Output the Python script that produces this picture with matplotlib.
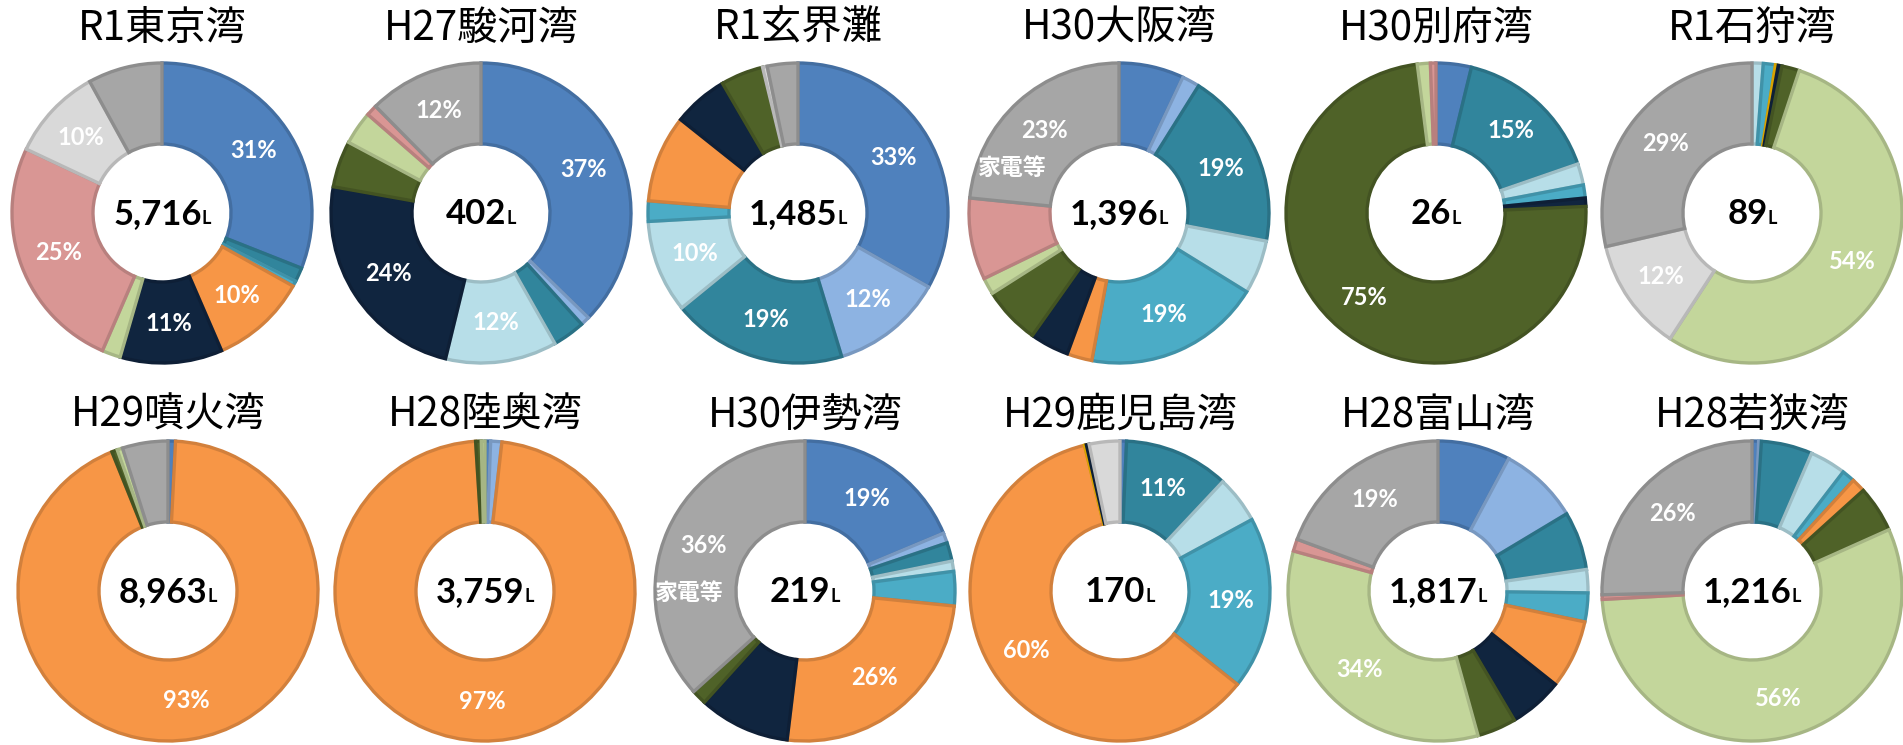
import matplotlib
matplotlib.use('Agg')
import matplotlib.pyplot as plt
from matplotlib.colors import to_rgb
from matplotlib.transforms import offset_copy
import numpy as np

plt.rcParams['font.family'] = ['Noto Sans CJK JP', 'DejaVu Sans']

# litter categories, same order (clockwise from 12 o'clock) in every bay
categories = ['区分1', '区分2', '区分3', '区分4', '区分5', '区分6', '区分7',
              '区分8', '区分9', '区分10', '区分11', '区分12', '家電等']
colors = ['#4f81bd', '#8db3e2', '#31859c', '#b7dee8', '#4bacc6', '#f79646', '#ffc000',
          '#10253f', '#4f6228', '#c3d69b', '#d99694', '#d9d9d9', '#a6a6a6']

titles = ['R1東京湾', 'H27駿河湾', 'R1玄界灘', 'H30大阪湾', 'H30別府湾', 'R1石狩湾',
          'H29噴火湾', 'H28陸奥湾', 'H30伊勢湾', 'H29鹿児島湾', 'H28富山湾', 'H28若狭湾']
totals = ['5,716', '402', '1,485', '1,396', '26', '89',
          '8,963', '3,759', '219', '170', '1,817', '1,216']

# shares (%) per category
tokyo     = [31.0, 0, 1.5, 0, 0.6, 10.4, 0, 11.0, 0, 2.0, 25.5, 10.0, 8.0]
suruga    = [37.3, 1.0, 3.5, 12.0, 0, 0, 0, 24.0, 5.0, 3.6, 1.2, 0, 12.4]
genkai    = [33.2, 12.1, 18.8, 10.0, 2.2, 9.4, 0, 5.9, 4.6, 0, 0, 0.5, 3.3]
osaka     = [7.0, 1.9, 19.1, 5.8, 19.1, 2.7, 0, 4.2, 6.2, 1.8, 8.8, 0, 23.4]
beppu     = [3.8, 0, 15.9, 2.3, 1.4, 0, 0, 0.9, 73.7, 1.4, 0.6, 0, 0]
ishikari  = [0, 0, 0, 1.2, 1.3, 0, 0.3, 0.4, 1.9, 54.1, 0, 12.2, 28.6]
funka     = [0.8, 0, 0, 0, 0, 93.1, 0, 0, 0.6, 0.6, 0, 0, 4.9]
mutsu     = [0.6, 1.2, 0, 0, 0, 97.2, 0, 0, 0.6, 0.4, 0, 0, 0]
ise       = [18.7, 1.1, 2.0, 1.1, 3.7, 25.3, 0, 9.8, 1.6, 0, 0, 0, 36.7]
kagoshima = [0.7, 0, 11.3, 5.1, 18.6, 60.5, 0.2, 0.3, 0, 0, 0, 3.3, 0]
toyama    = [7.8, 8.6, 6.3, 2.5, 3.1, 7.4, 0, 5.8, 4.2, 33.6, 1.3, 0, 19.4]
wakasa    = [0.7, 0.3, 5.5, 3.9, 1.4, 1.5, 0, 0, 5.0, 55.8, 0.5, 0, 25.4]
shares = [tokyo, suruga, genkai, osaka, beppu, ishikari,
          funka, mutsu, ise, kagoshima, toyama, wakasa]

# printed percentage labels (category index -> text)
pct_labels = [
    {0: '31%', 5: '10%', 7: '11%', 10: '25%', 11: '10%'},
    {0: '37%', 3: '12%', 7: '24%', 12: '12%'},
    {0: '33%', 1: '12%', 2: '19%', 3: '10%'},
    {2: '19%', 4: '19%', 12: '23%'},
    {2: '15%', 8: '75%'},
    {9: '54%', 11: '12%', 12: '29%'},
    {5: '93%'},
    {5: '97%'},
    {0: '19%', 5: '26%', 12: '36%'},
    {2: '11%', 4: '19%', 5: '60%'},
    {9: '34%', 12: '19%'},
    {9: '56%', 12: '26%'},
]
# bays where the grey wedge also carries its category name
named_grey = ['H30大阪湾', 'H30伊勢湾']

W, H = 1903, 745
fig = plt.figure(figsize=(W / 100, H / 100), dpi=100)
fig.patch.set_facecolor('white')

R = 150
xs = [162, 481, 798, 1119, 1436, 1752, 168, 485, 805, 1120, 1438, 1752]
ys = [213] * 6 + [591] * 6
title_ys = [28] * 6 + [415] * 6

centre_texts = []
for i in range(12):
    cx, cy = xs[i], ys[i]
    ax = fig.add_axes([(cx - R) / W, 1 - (cy + R) / H, 2 * R / W, 2 * R / H])
    vals = [v for v in shares[i] if v > 0]
    idx = [k for k, v in enumerate(shares[i]) if v > 0]
    cols = [colors[k] for k in idx]
    edges = [tuple(np.array(to_rgb(c)) * 0.85) for c in cols]
    wedges, _ = ax.pie(vals, colors=cols, startangle=90, counterclock=False,
                       wedgeprops=dict(width=0.54, linewidth=2.4))
    for w, e in zip(wedges, edges):
        w.set_edgecolor(e)
        w.set_clip_on(False)
    ax.set_xlim(-1, 1)
    ax.set_ylim(-1, 1)
    ax.set_aspect('auto')
    ax.axis('off')

    for w, k in zip(wedges, idx):
        if k in pct_labels[i]:
            a = np.deg2rad((w.theta1 + w.theta2) / 2)
            ax.text(0.74 * np.cos(a), 0.74 * np.sin(a), pct_labels[i][k],
                    ha='center', va='center', color='white', fontsize=17,
                    fontweight='bold', family=['Lato', 'DejaVu Sans'])
        if k == 12 and titles[i] in named_grey:
            a = np.deg2rad((w.theta1 + w.theta2) / 2 + 25)
            ax.text(0.77 * np.cos(a), 0.77 * np.sin(a), categories[k],
                    ha='center', va='center', color='white', fontsize=16.5,
                    fontweight='bold')

    fig.text(cx / W, 1 - title_ys[i] / H, titles[i], ha='center', va='center',
             fontsize=29, color='black')

    tr = offset_copy(ax.transData, fig=fig, x=0, y=-11, units='dots')
    t1 = ax.text(0, 0, totals[i], transform=tr, ha='right', va='baseline',
                 fontsize=25, fontweight='bold', family=['Lato', 'DejaVu Sans'])
    t2 = ax.text(0, 0, 'L', transform=tr, ha='left', va='baseline',
                 fontsize=13, fontweight='bold', family=['Lato', 'DejaVu Sans'])
    centre_texts.append((ax, t1, t2))

# centre "number + L" as one block
fig.canvas.draw()
rend = fig.canvas.get_renderer()
for ax, t1, t2 in centre_texts:
    w1 = t1.get_window_extent(rend).width
    w2 = t2.get_window_extent(rend).width
    tr = offset_copy(ax.transData, fig=fig, x=(w1 - w2) / 2, y=-11, units='dots')
    t1.set_transform(tr)
    t2.set_transform(tr)

fig.savefig('out.png', dpi=100, facecolor='white')
